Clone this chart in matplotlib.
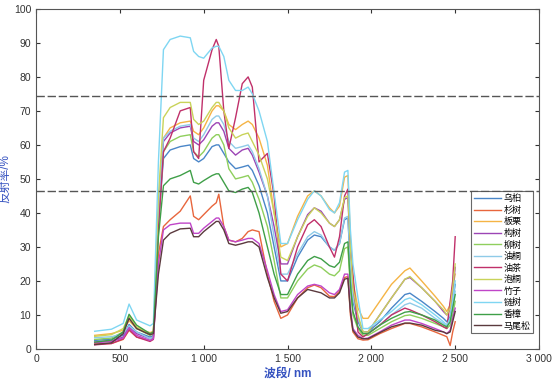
import numpy as np
import matplotlib
matplotlib.use('Agg')
import matplotlib.pyplot as plt

plt.rcParams['font.family'] = ['Liberation Sans', 'Noto Sans CJK SC', 'DejaVu Sans']

# wavelength grid (nm) shared by all spectra
wl = [350, 450, 520, 555, 600, 680, 700, 730, 760, 800,
      860, 920, 940, 970, 1000, 1050, 1075, 1090, 1120, 1150,
      1190, 1230, 1265, 1290, 1330, 1380, 1420, 1460, 1500, 1560,
      1620, 1660, 1700, 1750, 1780, 1810, 1840, 1860, 1875, 1890,
      1920, 1950, 1980, 2050, 2120, 2200, 2230, 2300, 2380, 2430,
      2450, 2470, 2485, 2500]

# reflectance (%)
wujiu = [2.5, 2.9, 4, 7.2, 5, 3.5, 4, 37, 56, 58.5,
         59.5, 60, 56, 55, 56, 59.5, 60, 60, 57.5, 55,
         53, 53.5, 54, 52.5, 48, 40, 30, 20, 20, 27,
         32, 33.5, 33, 30, 29, 31, 38, 38.5, 24, 14,
         8, 5, 5, 8, 12, 16, 16.4, 14, 11, 9,
         8, 9.5, 14, 19]
shanshu = [1.5, 1.6, 2.8, 5.5, 3.5, 2.5, 3, 28, 36, 38,
           40.5, 45, 39, 38, 39.5, 42, 43, 45.5, 36, 32,
           31.5, 32.5, 34.5, 35, 34.5, 22, 14, 9, 10, 15,
           18, 18.8, 18, 15.5, 15.4, 17, 21, 21.3, 10, 5,
           3, 2.6, 2.7, 4.5, 6, 7.5, 7.5, 6.5, 5, 4,
           3.6, 1, 5, 8]
banli = [4.0, 4.5, 5.5, 8.3, 6, 4.8, 5.2, 40, 62, 65,
         66.5, 67, 64, 63, 65, 70, 71.5, 71.5, 70, 66,
         64.5, 66, 67, 66, 62, 54, 40, 30, 31, 39,
         45, 46.5, 45, 41.5, 40, 42, 50.5, 51, 32, 20,
         12, 9, 9, 14, 19, 23, 23.8, 20, 15.5, 12.5,
         11, 13, 18, 22]
goushu = [2.0, 2.4, 3.5, 6.5, 4.5, 3.0, 3.4, 40, 61, 63.5,
          65, 65.5, 61, 60, 61.5, 65.5, 66.5, 66.5, 64, 59,
          57, 58.5, 59, 57, 52, 45, 36, 25, 25, 33,
          39.5, 41.5, 40.5, 37, 36, 38, 44, 44.5, 28, 17,
          9, 5, 5, 10, 15, 20.5, 21, 18, 14, 11,
          10, 12, 17, 24]
liushu = [2.8, 3.2, 5, 9.3, 6, 4, 4.5, 38, 58, 61,
          62.5, 63, 58, 56.5, 58, 62, 63, 63, 60, 53,
          50, 50.5, 51, 49, 44, 36, 26, 15, 15, 20,
          23.5, 24.7, 24, 22, 21.5, 23, 29.5, 30, 18, 10,
          6, 4, 4, 6, 8, 9.8, 10, 9, 7.5, 6.5,
          6, 7, 10, 14]
youtong = [3.3, 3.6, 4.5, 6.8, 5, 3, 3.5, 40, 62, 64,
           65.5, 66, 62, 61, 63, 67.5, 68.5, 68.5, 66, 61,
           59, 59.5, 60, 58, 53, 45, 33, 22, 22, 28,
           33, 34.5, 33.5, 30, 29, 31, 38.5, 39, 25, 15,
           9, 5, 4.5, 7, 10, 13, 13.5, 12, 9, 7.5,
           6.5, 8, 12, 17]
youcha = [1.2, 1.6, 3, 5.7, 3.5, 2.2, 2.8, 35, 58, 62,
          70, 71, 58, 56, 79, 88, 91, 89, 70, 59,
          68, 78, 80, 77, 55, 57.5, 45, 22, 20, 30,
          36.5, 38, 36, 30, 27, 33, 45, 47, 30, 22,
          5, 3.5, 4.5, 7, 10, 12, 11.5, 10, 8, 6.5,
          6, 14, 20, 33]
paotong = [3.7, 4.2, 6, 9.8, 6.5, 4.5, 5, 45, 68, 71,
           72.5, 72.5, 67.5, 66, 67, 71, 72.5, 72.5, 70, 65,
           62, 63, 63.5, 61, 57, 50, 40, 27, 26, 33,
           39, 41.5, 40, 37, 36, 38, 44.5, 45, 30, 18,
           10, 5, 5, 10, 15, 20.5, 21.3, 18, 14, 11.5,
           10, 12, 18, 25]
zhuzi = [1.8, 2.2, 3.2, 6.2, 4, 2.5, 3, 25, 35, 36.5,
         37, 37, 34, 34, 35.5, 37.5, 38.5, 38.5, 36, 32,
         31.5, 32, 32.5, 32.5, 31, 23, 16, 11, 11.5, 16,
         18.5, 19, 18.5, 16.5, 16, 17.5, 22, 22, 12, 6,
         4, 3, 3.2, 5, 7, 8.5, 8.5, 7.5, 6, 5,
         4.5, 5.5, 9, 12]
lianshu = [5.2, 5.8, 7.5, 13.2, 8.5, 6.8, 7.5, 55, 88, 91,
           92, 91.5, 87.5, 86, 85.5, 88.5, 89, 89, 86, 79,
           76, 76, 77, 75, 70, 61, 46, 31, 31, 38,
           44, 46.5, 45, 41, 40, 43, 52, 52.5, 35, 25,
           15, 6, 6, 8.5, 11, 14.5, 15, 13, 10, 8,
           7, 9, 14, 20]
xiangzhang = [2.0, 2.6, 5, 10.2, 7, 4.5, 5, 33, 48, 50,
              51, 52.5, 49, 48.5, 49.5, 51, 51.5, 51.5, 49, 46.5,
              46, 47, 47.5, 46, 40, 30, 22, 16, 16, 22,
              26, 27.2, 26.5, 24.5, 24, 25.5, 31, 31.5, 19, 11,
              6.5, 4.5, 4.5, 7, 9, 10.8, 11, 10, 8.5, 7,
              6.5, 8, 12, 16]
maweisong = [1.3, 1.8, 4.5, 9.0, 6, 4.2, 4.5, 22, 32, 34,
             35.3, 35.5, 33, 33, 34.5, 36.5, 37.5, 37.5, 35, 31,
             30.5, 31, 31.5, 31.5, 30, 21, 15, 10.5, 11, 15,
             17.5, 17, 16.5, 15, 15, 16.5, 20.5, 20.8, 11, 5.5,
             3.5, 3, 3, 4.8, 6.5, 7.6, 7.6, 7, 5.5, 5,
             4.5, 5, 8, 11]

names = ['乌桕', '杉树', '板栗', '构树', '柳树', '油桐',
         '油茶', '泡桐', '竹子', '链树', '香樟', '马尾松']
series = [wujiu, shanshu, banli, goushu, liushu, youtong,
          youcha, paotong, zhuzi, lianshu, xiangzhang, maweisong]
colors = ['#4a86c8', '#e8663d', '#f5b445', '#9c45b5', '#8fcf5d', '#8fcbe8',
          '#c0306a', '#c9d35a', '#c045c8', '#7fd6f2', '#3f9f48', '#5b3a3e']

thresholds = [74.4, 46.5]

fig = plt.figure(figsize=(5.54, 3.86), dpi=100)
ax = fig.add_axes([0.065, 0.096, 0.908, 0.881])

for vals, name, c in zip(series, names, colors):
    ax.plot(wl, vals, color=c, lw=1.0, label=name)

for t in thresholds:
    ax.axhline(t, color='#555555', lw=1.0, ls=(0, (6, 2)))

ax.set_xlim(0, 3000)
ax.set_ylim(0, 100)
ax.set_xticks([0, 500, 1000, 1500, 2000, 2500, 3000])
ax.set_xticklabels(['0', '500', '1 000', '1 500', '2 000', '2 500', '3 000'])
ax.set_yticks(range(0, 101, 10))
ax.tick_params(direction='in', top=True, right=True, labelsize=7.5,
               colors='#333333', length=3, width=0.8)
for s in ax.spines.values():
    s.set_color('#555555')
    s.set_linewidth(0.8)

ax.set_xlabel('波段/ nm', color='#3552c0', fontsize=8.5, fontweight='bold', labelpad=3)
ax.set_ylabel('反射率/%', color='#3552c0', fontsize=8.5, labelpad=2)

leg = ax.legend(loc='upper right', bbox_to_anchor=(0.988, 0.463), fontsize=6.5,
                frameon=True, fancybox=False, edgecolor='#444444',
                handlelength=3.0, handletextpad=0.3, labelspacing=0.28,
                borderpad=0.3, borderaxespad=0)
leg.get_frame().set_linewidth(0.8)
for line in leg.get_lines():
    line.set_linewidth(1.0)

fig.savefig('out.png', dpi=100)
